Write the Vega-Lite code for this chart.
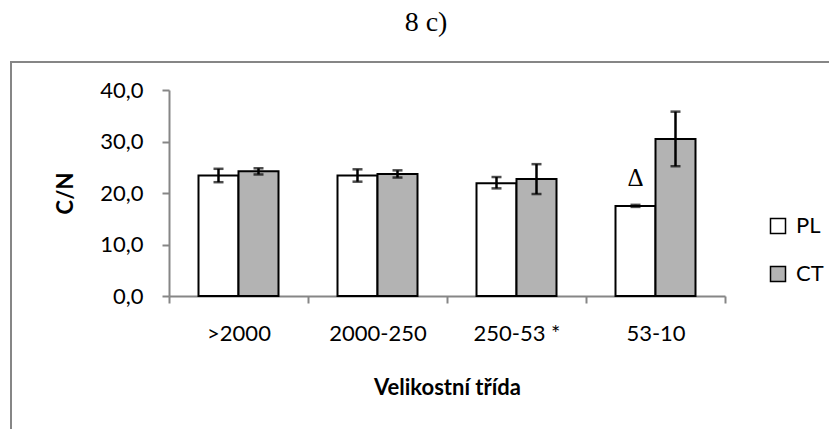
{
  "$schema": "https://vega.github.io/schema/vega-lite/v6.json",
  "autosize": {"type": "none"},
  "padding": {"left": 11, "top": 62, "right": 0, "bottom": 0},
  "width": 830,
  "height": 380,
  "background": "white",
  "title": {"text": "8 c)", "font": "Liberation Serif", "fontSize": 28, "fontWeight": "normal", "anchor": "middle", "frame": "group", "offset": 3, "baseline": "alphabetic", "color": "black"},
  "config": {
    "view": {"stroke": "#868686", "strokeWidth": 2},
    "axis": {
      "grid": false,
      "domainColor": "#868686",
      "domainWidth": 2,
      "tickColor": "#868686",
      "tickWidth": 2,
      "tickSize": 7,
      "labelFont": "Lato",
      "labelFontSize": 22,
      "labelColor": "black",
      "titleFont": "Lato",
      "titleFontSize": 22,
      "titleFontWeight": "bold",
      "titleColor": "black"
    }
  },
  "data": {
    "values": [
      {"cat": ">2000", "group": "PL", "value": 23.4, "lo": 22.1, "hi": 24.7},
      {"cat": ">2000", "group": "CT", "value": 24.2, "lo": 23.6, "hi": 24.8},
      {"cat": "2000-250", "group": "PL", "value": 23.4, "lo": 22.2, "hi": 24.6},
      {"cat": "2000-250", "group": "CT", "value": 23.7, "lo": 23.0, "hi": 24.4},
      {"cat": "250-53 *", "group": "PL", "value": 21.9, "lo": 20.9, "hi": 23.1},
      {"cat": "250-53 *", "group": "CT", "value": 22.7, "lo": 19.8, "hi": 25.6},
      {"cat": "53-10", "group": "PL", "value": 17.5, "lo": 17.3, "hi": 17.7},
      {"cat": "53-10", "group": "CT", "value": 30.5, "lo": 25.2, "hi": 35.8}
    ]
  },
  "encoding": {
    "x": {
      "field": "cat",
      "type": "nominal",
      "sort": [">2000", "2000-250", "250-53 *", "53-10"],
      "scale": {"range": [158, 714], "paddingInner": 0, "paddingOuter": 0},
      "axis": {"title": "Velikostní třída", "offset": -146, "labelAngle": 0, "tickBand": "extent", "labelPadding": 20, "titlePadding": 33}
    },
    "xOffset": {
      "field": "group",
      "type": "nominal",
      "sort": ["PL", "CT"],
      "scale": {"paddingInner": 0, "paddingOuter": 0.7375}
    }
  },
  "layer": [
    {
      "mark": {"type": "bar", "stroke": "black", "strokeWidth": 2},
      "encoding": {
        "y": {
          "field": "value",
          "type": "quantitative",
          "title": "C/N",
          "scale": {"domain": [0, 40], "range": [234, 28], "nice": false, "zero": true},
          "axis": {"offset": -158, "values": [0, 10, 20, 30, 40], "labelExpr": "replace(format(datum.value, '.1f'), '.', ',')", "labelPadding": 19, "titlePadding": 22}
        },
        "fill": {
          "field": "group",
          "type": "nominal",
          "scale": {"domain": ["PL", "CT"], "range": ["white", "#b3b3b3"]},
          "legend": {"orient": "none", "legendX": 756, "legendY": 153, "title": null, "symbolType": "square", "symbolSize": 225, "symbolStrokeColor": "black", "symbolStrokeWidth": 1.5, "labelFont": "Lato", "labelFontSize": 22, "labelColor": "black", "rowPadding": 26, "labelOffset": 7}
        }
      }
    },
    {
      "mark": {"type": "rule", "color": "black", "strokeWidth": 2.5},
      "encoding": {
        "y": {"field": "lo", "type": "quantitative", "title": "C/N"},
        "y2": {"field": "hi"}
      }
    },
    {
      "mark": {"type": "tick", "color": "black", "thickness": 2.5, "size": 10},
      "encoding": {"y": {"field": "lo", "type": "quantitative", "title": "C/N"}}
    },
    {
      "mark": {"type": "tick", "color": "black", "thickness": 2.5, "size": 10},
      "encoding": {"y": {"field": "hi", "type": "quantitative", "title": "C/N"}}
    },
    {
      "data": {"values": [{"cat": "53-10", "group": "PL", "pos": 22.9, "label": "Δ"}]},
      "mark": {"type": "text", "font": "Liberation Serif", "fontSize": 25, "baseline": "middle", "color": "black"},
      "encoding": {
        "y": {"field": "pos", "type": "quantitative", "title": "C/N"},
        "text": {"field": "label"}
      }
    }
  ]
}
